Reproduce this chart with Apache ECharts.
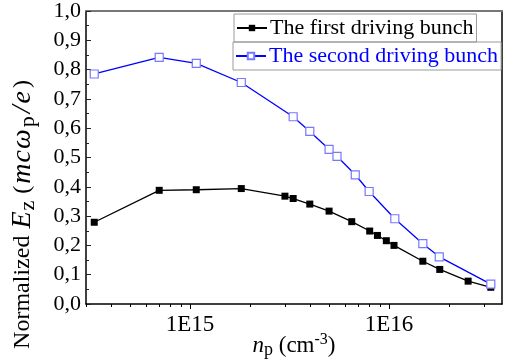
<!DOCTYPE html>
<html>
<head>
<meta charset="utf-8">
<script src="https://cdn.jsdelivr.net/npm/echarts@6/dist/echarts.min.js"></script>
<style>
  html, body { margin: 0; padding: 0; background: #fff; }
  #chart { width: 508px; height: 362px; }
</style>
</head>
<body>
<div id="chart"></div>
<script>
// Plasma density n_p (cm^-3) and normalized longitudinal field for each bunch
const firstDensity = [3.3e14, 7.0e14, 1.075e15, 1.81e15, 3.0e15, 3.3e15, 4.0e15, 5.0e15, 6.5e15, 8.0e15, 8.75e15, 9.7e15, 1.06e16, 1.48e16, 1.8e16, 2.5e16, 3.25e16];
const firstField   = [0.279, 0.388, 0.390, 0.394, 0.368, 0.360, 0.341, 0.317, 0.281, 0.249, 0.234, 0.216, 0.200, 0.146, 0.118, 0.078, 0.057];

const secondDensity = [3.3e14, 7.0e14, 1.075e15, 1.81e15, 3.3e15, 4.0e15, 5.0e15, 5.48e15, 6.77e15, 7.95e15, 1.07e16, 1.48e16, 1.79e16, 3.25e16];
const secondField   = [0.785, 0.842, 0.821, 0.756, 0.639, 0.589, 0.528, 0.504, 0.441, 0.384, 0.291, 0.206, 0.161, 0.068];

const seriesNames = ['The first driving bunch', 'The second driving bunch'];

// Decade ticks (labelled) and the 2..9 minor ticks of the logarithmic density axis
const xMin = 3e14, xMax = 3.7e16;
const decadeTicks = [1e15, 1e16];
const minorTicks = [];
for (let e = 14; e <= 16; e++) {
  for (let k = 2; k <= 9; k++) {
    const v = k * Math.pow(10, e);
    if (v >= xMin && v <= xMax) minorTicks.push(v);
  }
}

const lg = Math.log10;
const serif = '"Liberation Serif", "Times New Roman", serif';

const toPairs = (xs, ys) => xs.map((x, i) => [lg(x), ys[i]]);

const chart = echarts.init(document.getElementById('chart'), null, { renderer: 'canvas' });

const baseX = {
  type: 'value',
  gridIndex: 0,
  min: lg(xMin),
  max: lg(xMax),
  splitLine: { show: false }
};

const legendBase = {
  padding: [3, 3, 3, 2],
  itemWidth: 30, itemHeight: 8,
  borderColor: '#9a9a9a', borderWidth: 1
};

// Rich-text pieces for the field axis title
const it = (size, pad) => ({ fontFamily: serif, fontSize: size, fontStyle: 'italic', color: '#000', padding: pad });
const yTitleRich = {
  n:  { fontFamily: serif, fontSize: 24, color: '#000' },
  np: { fontFamily: serif, fontSize: 24, color: '#000', padding: [0, 0, 0, 4] },
  nc: { fontFamily: serif, fontSize: 24, color: '#000', padding: [0, 0, 0, 3] },
  E:  it(28, [0, 0, 0, 1]),
  m:  it(28, [0, 0, 0, 2]),
  c:  it(28, [0, 0, 0, 1]),
  w:  it(28, [0, 0, 0, 1]),
  sl: it(28, [0, 0, 0, 2]),
  e:  it(28, [0, 0, 0, 2]),
  sz: { fontFamily: serif, fontSize: 22, color: '#000', verticalAlign: 'bottom', padding: [10, 3, 0, 1] },
  sp: { fontFamily: serif, fontSize: 22, color: '#000', verticalAlign: 'bottom', padding: [10, 1, 0, 2] }
};

chart.setOption({
  animation: false,
  backgroundColor: '#fff',
  textStyle: { fontFamily: serif },
  grid: { left: 86, right: 6, top: 11, bottom: 58, outerBoundsMode: 'none', containLabel: false },
  legend: [
    Object.assign({}, legendBase, {
      data: [seriesNames[0]],
      left: 234, top: 14,
      textStyle: { fontFamily: serif, fontSize: 22, color: '#000', padding: [0, 0, 0, -2] }
    }),
    Object.assign({}, legendBase, {
      data: [seriesNames[1]],
      left: 233, top: 42,
      textStyle: { fontFamily: serif, fontSize: 22, color: '#0000ff', padding: [0, 0, 0, -2] }
    })
  ],
  xAxis: [
    Object.assign({}, baseX, {
      position: 'bottom',
      axisLine: { onZero: false, lineStyle: { color: '#000', width: 1.5 } },
      axisTick: { show: true, inside: false, length: 5, customValues: decadeTicks.map(lg), lineStyle: { color: '#000', width: 1 } },
      axisLabel: {
        customValues: decadeTicks.map(lg),
        formatter: v => '1E' + Math.round(v),
        fontFamily: serif, fontSize: 23, color: '#000', margin: 9
      },
      name: '{i|n}{sub|p}{n| (cm}{sup|-3}{n|)}',
      nameLocation: 'middle',
      nameGap: 28,
      nameMoveOverlap: false,
      nameTextStyle: {
        fontFamily: serif, fontSize: 23, color: '#000',
        rich: {
          n: { fontFamily: serif, fontSize: 23, color: '#000' },
          i: { fontFamily: serif, fontSize: 23, fontStyle: 'italic', color: '#000' },
          sub: { fontFamily: serif, fontSize: 18, color: '#000', verticalAlign: 'bottom', padding: [9, 0, 0, 0] },
          sup: { fontFamily: serif, fontSize: 16, color: '#000', verticalAlign: 'top', padding: [0, 0, 9, 0] }
        }
      }
    }),
    Object.assign({}, baseX, {
      position: 'bottom',
      axisLine: { show: false },
      axisTick: { show: true, inside: false, length: 3, customValues: minorTicks.map(lg), lineStyle: { color: '#000', width: 1 } },
      axisLabel: { show: false }
    }),
    Object.assign({}, baseX, {
      position: 'top',
      axisLine: { onZero: false, lineStyle: { color: '#777', width: 2 } },
      axisTick: { show: false },
      axisLabel: { show: false }
    })
  ],
  yAxis: [
    {
      type: 'value',
      min: 0, max: 1, interval: 0.1,
      position: 'left',
      axisLine: { onZero: false, lineStyle: { color: '#000', width: 1.5 } },
      axisTick: { inside: true, length: 5, lineStyle: { color: '#222', width: 1 } },
      minorTick: { show: true, splitNumber: 2, length: 3, lineStyle: { color: '#222', width: 1 } },
      splitLine: { show: false },
      axisLabel: {
        formatter: v => v.toFixed(1).replace('.', ','),
        fontFamily: serif, fontSize: 22, color: '#000', margin: 5
      },
      name: '{n|Normalized }{E|E}{sz|z}{np|(}{m|m}{c|c}{w|ω}{sp|p}{sl|/}{e|e}{nc|)}',
      nameLocation: 'middle',
      nameRotate: 90,
      nameGap: 47,
      nameMoveOverlap: false,
      nameTextStyle: {
        fontFamily: serif, fontSize: 24, color: '#000',
        padding: [0, 114, 0, 0],
        rich: yTitleRich
      }
    },
    {
      type: 'value',
      min: 0, max: 1,
      position: 'right',
      axisLine: { onZero: false, lineStyle: { color: '#000', width: 1.5 } },
      axisTick: { show: false },
      axisLabel: { show: false },
      splitLine: { show: false }
    }
  ],
  series: [
    {
      name: seriesNames[0],
      type: 'line',
      xAxisIndex: 0, yAxisIndex: 0,
      data: toPairs(firstDensity, firstField),
      symbol: 'rect',
      symbolSize: 7,
      lineStyle: { color: '#000', width: 1.3 },
      itemStyle: { color: '#000' },
      z: 2
    },
    {
      name: seriesNames[1],
      type: 'line',
      xAxisIndex: 0, yAxisIndex: 0,
      data: toPairs(secondDensity, secondField),
      symbol: 'rect',
      symbolSize: 8,
      showAllSymbol: true,
      lineStyle: { color: '#0000ff', width: 1.3 },
      itemStyle: { color: '#fff', borderColor: '#7878ff', borderWidth: 1.2 },
      z: 3
    }
  ]
});
</script>
</body>
</html>
